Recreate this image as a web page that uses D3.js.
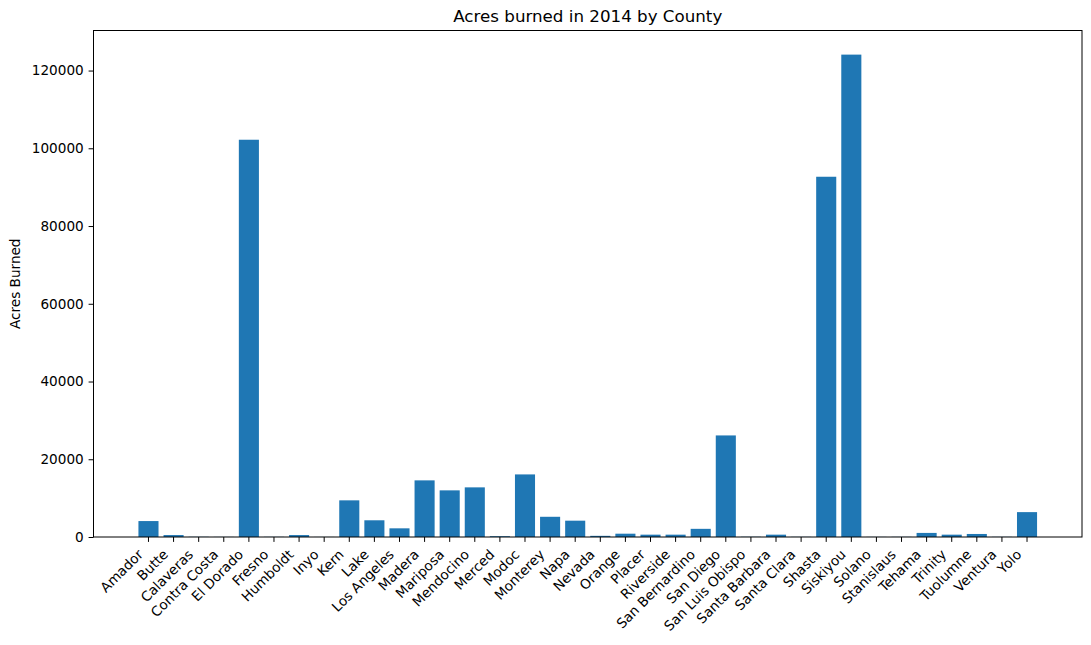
<!DOCTYPE html>
<html><head><meta charset="utf-8">
<script src="https://cdn.jsdelivr.net/npm/d3@7"></script>
<style>body{margin:0;background:#fff}svg text{font-family:"DejaVu Sans",sans-serif !important}</style>
</head><body><svg id="c" width="1091" height="645"></svg>
<script>
const counties = ["Amador","Butte","Calaveras","Contra Costa","El Dorado","Fresno","Humboldt","Inyo","Kern","Lake","Los Angeles","Madera","Mariposa","Mendocino","Merced","Modoc","Monterey","Napa","Nevada","Orange","Placer","Riverside","San Bernardino","San Diego","San Luis Obispo","Santa Barbara","Santa Clara","Shasta","Siskiyou","Solano","Stanislaus","Tehama","Trinity","Tuolumne","Ventura","Yolo"];
const acres = [4100,500,50,30,102200,40,500,20,9430,4300,2230,14570,12000,12770,200,16100,5200,4200,300,850,600,600,2100,26130,60,600,40,92680,124100,30,40,1050,600,780,40,6400];
const yTicks = [0,20000,40000,60000,80000,100000,120000];
const title = "Acres burned in 2014 by County";
const yLabel = "Acres Burned";

const svg = d3.select("#c");
const L = 93.5, R = 1082, T = 30.5, B = 537;
const x = d3.scaleBand().domain(counties).range([L, R]).paddingInner(0.2).paddingOuter(1.79);
const y = d3.scaleLinear().domain([0, d3.max(acres) * 1.05]).range([B, T]);

svg.append("g").selectAll("rect").data(counties).join("rect")
  .attr("x", d => x(d)).attr("width", x.bandwidth())
  .attr("y", (d, i) => y(acres[i])).attr("height", (d, i) => B - y(acres[i]))
  .attr("fill", "#1f77b4");

const xa = svg.append("g").attr("transform", `translate(0,${B})`)
  .call(d3.axisBottom(x).tickSize(4.9).tickPadding(4.9).tickSizeOuter(0));
xa.select(".domain").remove();
xa.selectAll("line").attr("stroke", "#000").attr("stroke-width", 1);
xa.selectAll("text").attr("fill", "#000").style("font-size", "13.6px")
  .attr("text-anchor", "end").attr("dy", "0.35em")
  .attr("transform", "translate(-8,15) rotate(-45)").attr("y", 0).attr("x", 0);

const ya = svg.append("g").attr("transform", `translate(${L},0)`)
  .call(d3.axisLeft(y).tickValues(yTicks).tickFormat(d3.format("d")).tickSize(4.9).tickPadding(4.9));
ya.select(".domain").remove();
ya.selectAll("line").attr("stroke", "#000");
ya.selectAll("text").attr("fill", "#000").style("font-size", "13.6px");

svg.append("rect").attr("x", L).attr("y", T).attr("width", R - L).attr("height", B - T)
  .attr("fill", "none").attr("stroke", "#000").attr("stroke-width", 1);

svg.append("text").attr("x", (L + R) / 2).attr("y", 22).attr("text-anchor", "middle")
  .style("font-size", "16.7px").text(title);
svg.append("text").attr("transform", `translate(20,${(T + B) / 2}) rotate(-90)`)
  .attr("text-anchor", "middle").style("font-size", "13.6px").text(yLabel);
</script></body></html>
